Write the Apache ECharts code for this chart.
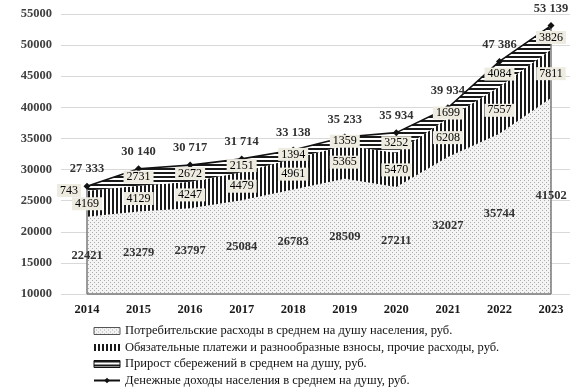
<!DOCTYPE html>
<html><head><meta charset="utf-8">
<script src="https://cdn.jsdelivr.net/npm/echarts@6/dist/echarts.min.js"></script>
<style>html,body{margin:0;padding:0;background:#fff}#c{width:588px;height:392px}</style>
</head><body><div id="c"></div>
<script>
const years = ['2014','2015','2016','2017','2018','2019','2020','2021','2022','2023'];
const consumer = [22421,23279,23797,25084,26783,28509,27211,32027,35744,41502];
const obligatory = [4169,4129,4247,4479,4961,5365,5470,6208,7557,7811];
const savings = [743,2731,2672,2151,1394,1359,3252,1699,4084,3826];
const income = [27333,30140,30717,31714,33138,35233,35934,39934,47386,53139];
const names = [
  'Потребительские расходы в среднем на душу населения, руб.',
  'Обязательные платежи и разнообразные взносы, прочие расходы, руб.',
  'Прирост сбережений в среднем на душу, руб.',
  'Денежные доходы населения в среднем на душу, руб.'
];
const Y_MIN = 10000, Y_MAX = 55000, Y_STEP = 5000;

const FONT = '"Liberation Serif","Times New Roman",serif';

function pattern(w, h, draw) {
  const c = document.createElement('canvas');
  c.width = w; c.height = h;
  const ctx = c.getContext('2d');
  draw(ctx);
  return { image: c, repeat: 'repeat' };
}
const dotPat = pattern(4, 4, ctx => {
  ctx.fillStyle = '#f4f4f4'; ctx.fillRect(0,0,4,4);
  ctx.fillStyle = '#ababab'; ctx.fillRect(0,0,1,1); ctx.fillRect(2,2,1,1);
});
const vPat = pattern(4, 1, ctx => {
  ctx.fillStyle = '#ffffff'; ctx.fillRect(0,0,4,1);
  ctx.fillStyle = '#1a1a1a'; ctx.fillRect(0,0,2,1);
});
const hPat = pattern(1, 4, ctx => {
  ctx.fillStyle = '#ffffff'; ctx.fillRect(0,0,1,4);
  ctx.fillStyle = '#1a1a1a'; ctx.fillRect(0,0,1,2);
});

const fmtSpace = n => String(n).replace(/\B(?=(\d{3})+(?!\d))/g, ' ');

const boxLabel = {
  show: true, position: 'inside', fontFamily: FONT, fontSize: 12, color: '#000',
  textBorderWidth: 0, textBorderColor: 'transparent',
  backgroundColor: '#eeece1', padding: [1, 3, 0, 3], opacity: 1,
  formatter: p => p.value[2]
};

const consumerLbl = years.map((y, i) => [i, (Y_MIN + consumer[i]) / 2, consumer[i]]);
const obligLbl = years.map((y, i) => [i, consumer[i] + obligatory[i] / 2, obligatory[i]]);
const savLbl = years.map((y, i) => {
  const d = { value: [i, consumer[i] + obligatory[i] + savings[i] / 2, savings[i]] };
  if (i === 0) d.label = { offset: [-18, 2] };
  return d;
});

const last = years.length - 1;
const chart = echarts.init(document.getElementById('c'), null, { renderer: 'canvas' });
chart.setOption({
  animation: false,
  textStyle: { fontFamily: FONT },
  grid: [
    { left: 87, right: 37, top: 14, bottom: 98 },
    { left: 61, right: 18, top: 14, bottom: 98 }
  ],
  xAxis: [
    { type: 'category', gridIndex: 0, data: years, boundaryGap: false,
      axisLine: { show: false }, axisTick: { show: false },
      axisLabel: { fontFamily: FONT, fontWeight: 'bold', fontSize: 12.5, color: '#1a1a1a', margin: 9 } },
    { type: 'value', gridIndex: 1, min: 0, max: 1, show: false }
  ],
  yAxis: [
    { type: 'value', gridIndex: 0, min: Y_MIN, max: Y_MAX, interval: Y_STEP, show: false },
    { type: 'value', gridIndex: 1, min: Y_MIN, max: Y_MAX, interval: Y_STEP,
      axisLine: { show: false }, axisTick: { show: false },
      splitLine: { lineStyle: { color: '#d9d9d9', width: 1 } },
      axisLabel: { fontFamily: FONT, fontWeight: 'bold', fontSize: 12.5, color: '#404040', margin: 9,
        formatter: v => String(v) } }
  ],
  legend: {
    orient: 'vertical', left: 93, top: 324, padding: 0, itemGap: 2.5,
    itemWidth: 26, itemHeight: 7,
    textStyle: { fontFamily: FONT, fontSize: 12.5, color: '#111', lineHeight: 14 },
    data: [
      { name: names[0], icon: 'rect', itemStyle: { color: dotPat, borderColor: '#555', borderWidth: 1 } },
      { name: names[1], icon: 'rect', itemStyle: { color: vPat, borderColor: '#555', borderWidth: 0 } },
      { name: names[2], icon: 'rect', itemStyle: { color: hPat, borderColor: '#111', borderWidth: 1 } },
      { name: names[3] }
    ]
  },
  series: [
    { name: names[0], type: 'line', stack: 'total', data: consumer, color: '#888',
      showSymbol: false, symbol: 'none', lineStyle: { width: 0 },
      areaStyle: { color: dotPat, opacity: 1, origin: 'start' }, z: 2,
      markLine: {
        silent: true, symbol: 'none', label: { show: false },
        lineStyle: { color: '#7a7a7a', width: 1.5, type: 'solid' },
        data: [
          [{ coord: [years[0], Y_MIN] }, { coord: [years[0], income[0]] }],
          [{ coord: [years[last], Y_MIN] }, { coord: [years[last], income[last]] }],
          [{ coord: [years[0], Y_MIN] }, { coord: [years[last], Y_MIN] }]
        ]
      } },
    { name: names[1], type: 'line', stack: 'total', data: obligatory, color: '#222',
      showSymbol: false, symbol: 'none', lineStyle: { width: 0 },
      areaStyle: { color: vPat, opacity: 1 }, z: 2 },
    { name: names[2], type: 'line', stack: 'total', data: savings, color: '#222',
      showSymbol: false, symbol: 'none', lineStyle: { width: 0 },
      areaStyle: { color: hPat, opacity: 1 }, z: 2 },
    { name: names[3], type: 'line', data: income, color: '#111',
      symbol: 'diamond', symbolSize: 7, showSymbol: true,
      lineStyle: { color: '#111', width: 1.6 }, itemStyle: { color: '#111' }, z: 5,
      label: { show: true, position: 'top', distance: 7, fontFamily: FONT, fontWeight: 'bold',
        fontSize: 12.5, color: '#333', formatter: p => fmtSpace(p.value) } },
    { type: 'scatter', data: consumerLbl, symbolSize: 0, silent: true, z: 6,
      itemStyle: { opacity: 1 },
      label: { show: true, position: 'inside', fontFamily: FONT, fontWeight: 'bold', fontSize: 12.5,
        color: '#333', textBorderWidth: 0, textBorderColor: 'transparent', opacity: 1,
        formatter: p => p.value[2] } },
    { type: 'scatter', data: obligLbl, symbolSize: 0, silent: true, z: 6, itemStyle: { opacity: 1 }, label: boxLabel },
    { type: 'scatter', data: savLbl, symbolSize: 0, silent: true, z: 6, itemStyle: { opacity: 1 }, label: boxLabel }
  ]
});
</script></body></html>
